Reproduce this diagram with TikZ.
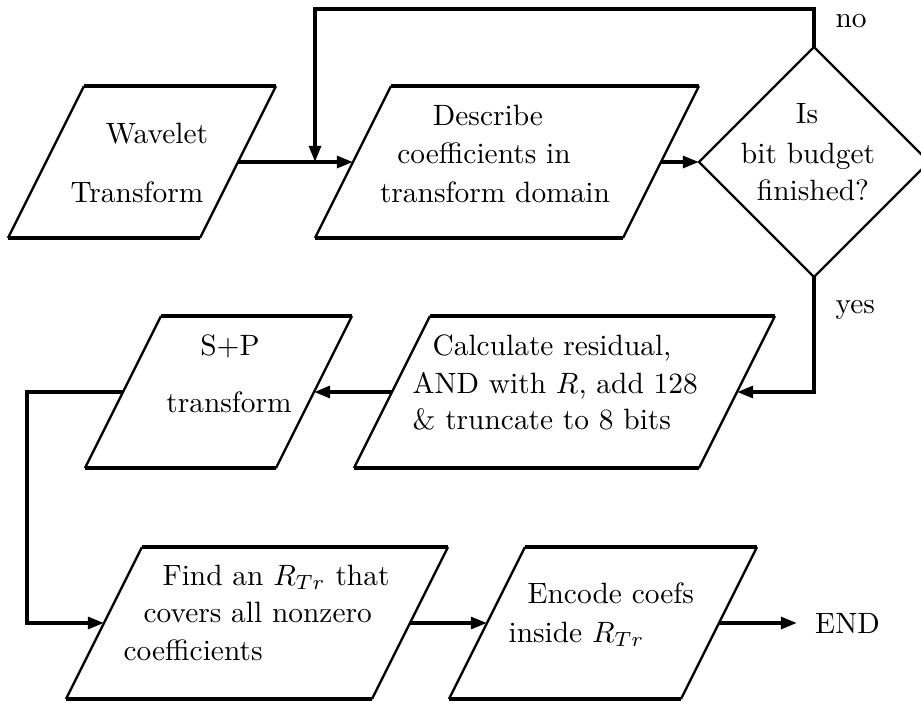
\documentclass[tikz,border=0pt]{standalone}
\usetikzlibrary{arrows.meta,calc}
\newcommand\paragram[4]{%
  \coordinate (#1-tl) at (#2,#3);
  \coordinate (#1-tr) at (#2+#4,#3);
  \coordinate (#1-bl) at (#2-76,#3+152);
  \coordinate (#1-br) at (#2+#4-76,#3+152);
  \draw[hedge] (#1-tl) -- (#1-tr);
  \draw[hedge] (#1-bl) -- (#1-br);
  \draw[sedge] (#1-tl) -- (#1-bl);
  \draw[sedge] (#1-tr) -- (#1-br);
  \coordinate (#1-w) at ($(#1-tl)!0.5!(#1-bl)$);
  \coordinate (#1-e) at ($(#1-tr)!0.5!(#1-br)$);
}
\begin{document}
\begin{tikzpicture}[x=0.34pt,y=-0.34pt,
  hedge/.style={line width=1.3pt,line cap=butt},
  sedge/.style={line width=0.8pt},
  conn/.style={line width=1.25pt},
  arr/.style={conn,-{Triangle[length=5.5pt,width=4pt]}},
  txt/.style={anchor=base,inner sep=0pt,font=\fontsize{10}{12}\selectfont},
  txtl/.style={txt,anchor=base west},
]
\useasboundingbox (0,0) rectangle (921,702);

% boxes
\paragram{p1}{84}{86}{192}
\paragram{p2}{391}{86}{308}
\paragram{p3}{161}{316}{191}
\paragram{p4}{430}{316}{345}
\paragram{p5}{142}{547}{306}
\paragram{p6}{525}{547}{232}

% decision diamond
\coordinate (dc) at (814,162);
\coordinate (d-t) at (814,47);
\coordinate (d-b) at (814,277);
\coordinate (d-l) at (699,162);
\coordinate (d-r) at (929,162);
\draw[sedge,line join=miter] (d-t) -- (d-r) -- (d-b) -- (d-l) -- cycle;

% texts
\node[txt] (t1a) at (157,143) {Wavelet};
\node[txt] (t1b) at (137,202) {Transform};
\node[txt] (t2a) at (488,125) {Describe};
\node[txt] (t2b) at (484,163) {coefficients in};
\node[txt] (t2c) at (495,202) {transform domain};
\node[txt] (tda) at (807,123) {Is};
\node[txt] (tdb) at (808,163) {bit budget};
\node[txt] (tdc) at (813,200) {finished?};
\node[txt] (t3a) at (230,355) {S+P};
\node[txt] (t3b) at (229,412) {transform};
\node[txtl] (t4a) at (432,355) {Calculate residual,};
\node[txtl] (t4b) at (412,393) {AND with $R$, add 128};
\node[txtl] (t4c) at (412,429) {\& truncate to 8 bits};
\node[txtl] (t5a) at (162,585) {Find an $R_{Tr}$ that};
\node[txtl] (t5b) at (143,622) {covers all nonzero};
\node[txtl] (t5c) at (123,660) {coefficients};
\node[txtl] (t6a) at (527,603) {Encode coefs};
\node[txtl] (t6b) at (508,642) {inside $R_{Tr}$};
\node[txtl] (lno) at (835,27) {no};
\node[txtl] (lyes) at (835,313) {yes};
\node[anchor=west,inner xsep=6pt,inner ysep=0pt,font=\fontsize{10}{12}\selectfont] (endn) at (797,623) {END};

% connectors
\coordinate (fbtop-r) at (814,9);
\coordinate (fbtop-l) at (315,9);
\coordinate (fbend) at (315,162);
\coordinate (lc) at (27,392);

\draw[arr] (p1-e) -- (p2-w);
\draw[arr] (p2-e) -- (d-l);
\draw[arr,line join=miter] (d-t) -- (fbtop-r) -- (fbtop-l) -- (fbend);
\draw[arr,line join=miter] (d-b) |- (p4-e);
\draw[arr] (p4-w) -- (p3-e);
\draw[arr,line join=miter] (p3-w) -- (lc) |- (p5-w);
\draw[arr] (p5-e) -- (p6-w);
\draw[arr] (p6-e) -- (endn.west);
\end{tikzpicture}
\end{document}
